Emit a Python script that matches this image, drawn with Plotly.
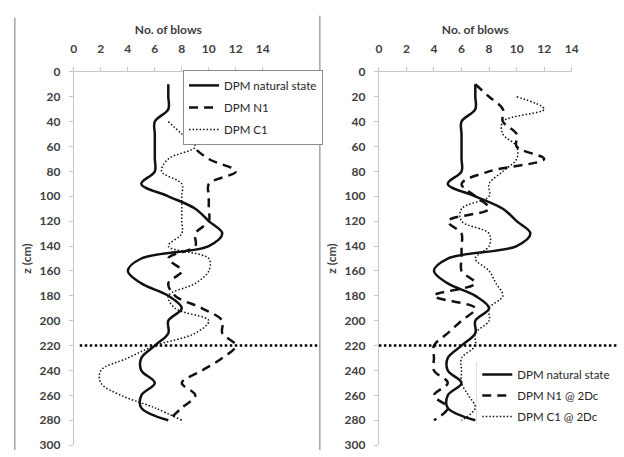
import plotly.graph_objects as go

# ---------------- data ----------------
z_all = [10, 20, 30, 40, 50, 60, 70, 80, 90, 100, 110, 120, 130, 140,
         150, 160, 170, 180, 190, 200, 210, 220, 230, 240, 250, 260, 270, 280]

natural_state = [7, 7, 7, 6, 6, 6, 6, 6, 5, 7, 9, 10, 11, 10,
                 5, 4, 5, 7, 8, 7, 7, 6, 5, 5, 6, 5, 5, 7]

z_n1 = z_all[1:]
n1 = [10, 10, 10, 10, 9, 10, 12, 10, 10, 10, 10, 9, 9,
      7, 8, 7, 7.5, 9.5, 11, 11, 12, 11, 9.5, 8, 9, 8, 7]

z_c1 = z_all[3:]
c1 = [7, 8, 9, 7, 6.5, 8, 8, 8, 8, 8, 7, 10, 10, 9, 7, 7.5,
      10, 9, 6, 4, 2, 2, 3.5, 6, 8]

z_n1_2dc = z_all
n1_2dc = [7, 8, 9, 9, 10, 10, 12, 8, 6, 7, 8, 5, 6, 6,
          6, 6, 7, 4, 7, 6, 5, 4, 4, 4, 5, 4, 5, 4]

z_c1_2dc = z_all[1:]
c1_2dc = [10, 12, 9, 9, 10, 10, 9, 8, 8, 6, 6, 8, 8,
          7, 8, 8.5, 9, 8, 8, 7, 7, 6, 6, 6, 6.5, 7, 6]

x_ticks = [0, 2, 4, 6, 8, 10, 12, 14]
z_ticks = list(range(0, 301, 20))
limit_depth = 220

# ---------------- style ----------------
W, H = 624, 457
FONT = "Lato"
TXT = "#404040"
AX = "#c8c8c8"
BORDER = "#a6a6a6"

def px_x(p):
    return p / W

def px_y(p):
    return 1 - p / H

fig = go.Figure()

def add(x, y, name, dash, width, xa, ya, leg, grp):
    fig.add_trace(go.Scatter(
        x=x, y=y, name=name, mode="lines",
        line=dict(color="#111111", width=width, dash=dash, shape="spline", smoothing=1.0),
        xaxis=xa, yaxis=ya, legend=leg, legendgroup=grp,
    ))

add(natural_state, z_all, "DPM natural state", "solid", 2.5, "x", "y", "legend", "a")
add(n1, z_n1, "DPM N1", "9px,6px", 2.5, "x", "y", "legend", "b")
add(c1, z_c1, "DPM C1", "1.5px,2px", 1.5, "x", "y", "legend", "c")

add(natural_state, z_all, "DPM natural state", "solid", 2.5, "x2", "y2", "legend2", "d")
add(n1_2dc, z_n1_2dc, "DPM N1 @ 2Dc", "9px,6px", 2.5, "x2", "y2", "legend2", "e")
add(c1_2dc, z_c1_2dc, "DPM C1 @ 2Dc", "1.5px,2px", 1.5, "x2", "y2", "legend2", "f")

tickfont = dict(family=FONT, size=12, color=TXT, weight="bold")
titlefont = dict(family=FONT, size=12, color=TXT, weight="bold")

def xaxis(domain, anchor):
    return dict(
        domain=domain, anchor=anchor, side="top", range=[0, 14],
        tickvals=x_ticks, showline=True, linecolor=AX, linewidth=1,
        ticks="outside", ticklen=4, tickcolor=AX, showgrid=False, zeroline=False,
        tickfont=tickfont, ticklabelstandoff=9, ticklabeloverflow="allow",
        title=dict(text="No. of blows", font=titlefont, standoff=3),
        fixedrange=True,
    )

def yaxis(anchor):
    return dict(
        domain=[px_y(452), px_y(66)], anchor=anchor, range=[300, 0],
        tickvals=z_ticks, showline=True, linecolor=AX, linewidth=1,
        ticks="outside", ticklen=4, tickcolor=AX, showgrid=False, zeroline=False,
        tickfont=tickfont, ticklabelstandoff=6, ticklabeloverflow="allow",
        title=dict(text="z (cm)", font=titlefont, standoff=5),
        fixedrange=True,
    )

legfont = dict(family=FONT, size=11.5, color="#262626")

fig.update_layout(
    width=W, height=H,
    margin=dict(l=0, r=0, t=0, b=0),
    paper_bgcolor="white", plot_bgcolor="white",
    xaxis=xaxis([px_x(72), px_x(264)], "y"),
    yaxis=yaxis("x"),
    xaxis2=xaxis([px_x(382), px_x(578)], "y2"),
    yaxis2=yaxis("x2"),
    legend=dict(
        x=px_x(183), y=px_y(64), xanchor="left", yanchor="top",
        bgcolor="white", bordercolor="#8c8c8c", borderwidth=1,
        font=legfont, tracegroupgap=3, traceorder="grouped",
    ),
    legend2=dict(
        x=px_x(482), y=px_y(364), xanchor="left", yanchor="top",
        bgcolor="white", borderwidth=0,
        font=legfont, tracegroupgap=2, traceorder="grouped",
    ),
    showlegend=True,
)

shapes = [
    # chart borders
    dict(type="line", xref="paper", yref="paper", x0=px_x(12), x1=px_x(12),
         y0=0, y1=px_y(10), line=dict(color=BORDER, width=1.5)),
    dict(type="line", xref="paper", yref="paper", x0=px_x(322), x1=px_x(322),
         y0=0, y1=px_y(8), line=dict(color=BORDER, width=1.5)),
    # right legend side lines
    dict(type="line", xref="paper", yref="paper", x0=px_x(482), x1=px_x(482),
         y0=px_y(430), y1=px_y(366), line=dict(color=BORDER, width=1.2)),
    dict(type="line", xref="paper", yref="paper", x0=px_x(619), x1=px_x(619),
         y0=px_y(430), y1=px_y(366), line=dict(color=BORDER, width=1.2)),
    # limit depth dotted line
    dict(type="line", xref="paper", yref="y", x0=px_x(78), x1=px_x(322),
         y0=limit_depth, y1=limit_depth,
         line=dict(color="black", width=2.5, dash="2.5px,2.5px")),
    dict(type="line", xref="paper", yref="y2", x0=px_x(382), x1=1,
         y0=limit_depth, y1=limit_depth,
         line=dict(color="black", width=2.5, dash="2.5px,2.5px")),
]
fig.update_layout(shapes=shapes)

fig.write_html(
    "out.html",
    config={"displayModeBar": False},
    post_script="document.body.style.margin='0';document.body.style.overflow='hidden';",
)
